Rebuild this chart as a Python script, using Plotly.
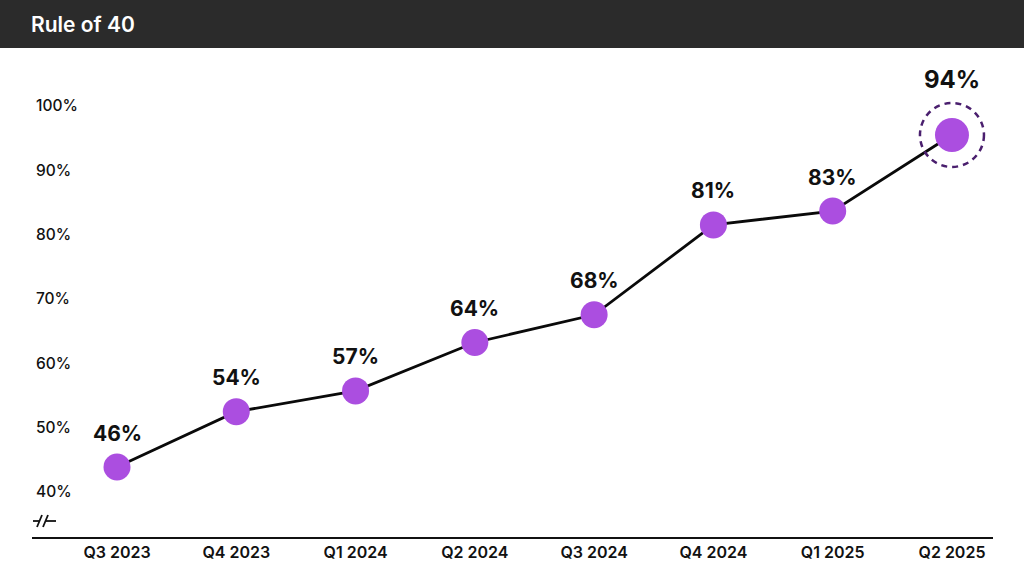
import plotly.graph_objects as go

quarters = ["Q3 2023", "Q4 2023", "Q1 2024", "Q2 2024", "Q3 2024", "Q4 2024", "Q1 2025", "Q2 2025"]
rule_of_40 = [46, 54, 57, 64, 68, 81, 83, 94]
label_ticks = [40, 50, 60, 70, 80, 90, 100]

W, H = 1024, 573
FONT = "Inter, Noto Sans, sans-serif"
PURPLE = "#ab4ee0"
DARK_PURPLE = "#4a1f6e"

n = len(quarters)
idx = list(range(n))
sizes = [27] * (n - 1) + [34]

fig = go.Figure()
fig.add_trace(go.Scatter(
    x=idx, y=rule_of_40, mode="lines+markers",
    line=dict(color="#0a0a0a", width=2.8),
    marker=dict(size=sizes, color=PURPLE, opacity=1, line=dict(width=0)),
    hoverinfo="skip", showlegend=False,
))

annotations = []
for i, v in enumerate(rule_of_40):
    last = i == n - 1
    annotations.append(dict(
        x=i, y=v, xref="x", yref="y", text=f"<b>{v}%</b>", showarrow=False,
        yshift=55 if last else 34, yanchor="middle",
        font=dict(family=FONT, size=24 if last else 21, color="#111"),
    ))
annotations.append(dict(
    x=29 / W, y=1 - 24 / H, xref="paper", yref="paper", xanchor="left", yanchor="middle",
    text="Rule of 40", showarrow=False,
    font=dict(family=FONT, size=21, color="#ffffff", weight=600),
))

def px(xp):
    return xp / W

def py(yp):
    return 1 - yp / H

shapes = [
    dict(type="rect", xref="paper", yref="paper", x0=0, x1=1, y0=py(48), y1=1,
         fillcolor="#2b2b2b", line=dict(width=0), layer="below"),
    dict(type="circle", xref="x", yref="y", xsizemode="pixel", ysizemode="pixel",
         xanchor=n - 1, yanchor=rule_of_40[-1], x0=-32, x1=32, y0=-32, y1=32,
         line=dict(color=DARK_PURPLE, width=2.5, dash="6px,5px")),
    # axis break symbol
    dict(type="line", xref="paper", yref="paper", x0=px(33), x1=px(39), y0=py(521), y1=py(521),
         line=dict(color="#111", width=1.8)),
    dict(type="line", xref="paper", yref="paper", x0=px(37), x1=px(42), y0=py(527), y1=py(515),
         line=dict(color="#111", width=1.8)),
    dict(type="line", xref="paper", yref="paper", x0=px(43), x1=px(48), y0=py(527), y1=py(515),
         line=dict(color="#111", width=1.8)),
    dict(type="line", xref="paper", yref="paper", x0=px(46), x1=px(56), y0=py(521), y1=py(521),
         line=dict(color="#111", width=1.8)),
]

fig.update_layout(
    width=W, height=H,
    margin=dict(l=0, r=0, t=0, b=0),
    paper_bgcolor="#ffffff", plot_bgcolor="#ffffff",
    font=dict(family=FONT, color="#111"),
    xaxis=dict(
        domain=[32 / W, 993 / W],
        range=[-0.7126, 7.344],
        tickmode="array", tickvals=idx, ticktext=quarters,
        tickfont=dict(family=FONT, size=16, color="#111", weight=600),
        showgrid=False, zeroline=False, ticks="",
        showline=True, linecolor="#111", linewidth=1.6,
        anchor="y",
    ),
    yaxis=dict(
        domain=[36 / H, 1 - 60 / H],
        range=[35.88, 104.84],
        showticklabels=False, showgrid=False, zeroline=False, showline=False,
    ),
    yaxis2=dict(
        overlaying="y", side="left", anchor="x",
        range=[33.0, 107.15],
        tickmode="array", tickvals=label_ticks, ticktext=[f"{t}%" for t in label_ticks],
        ticklabelposition="inside", ticks="", ticklabelstandoff=1,
        tickfont=dict(family=FONT, size=15.5, color="#111", weight=500),
        showgrid=False, zeroline=False, showline=False,
    ),
    shapes=shapes,
    annotations=annotations,
)
fig.add_trace(go.Scatter(x=[None], y=[None], yaxis="y2", showlegend=False, hoverinfo="skip"))

fig.write_html("out.html", config={"displayModeBar": False},
               post_script="document.body.style.margin='0';document.body.style.overflow='hidden';")
